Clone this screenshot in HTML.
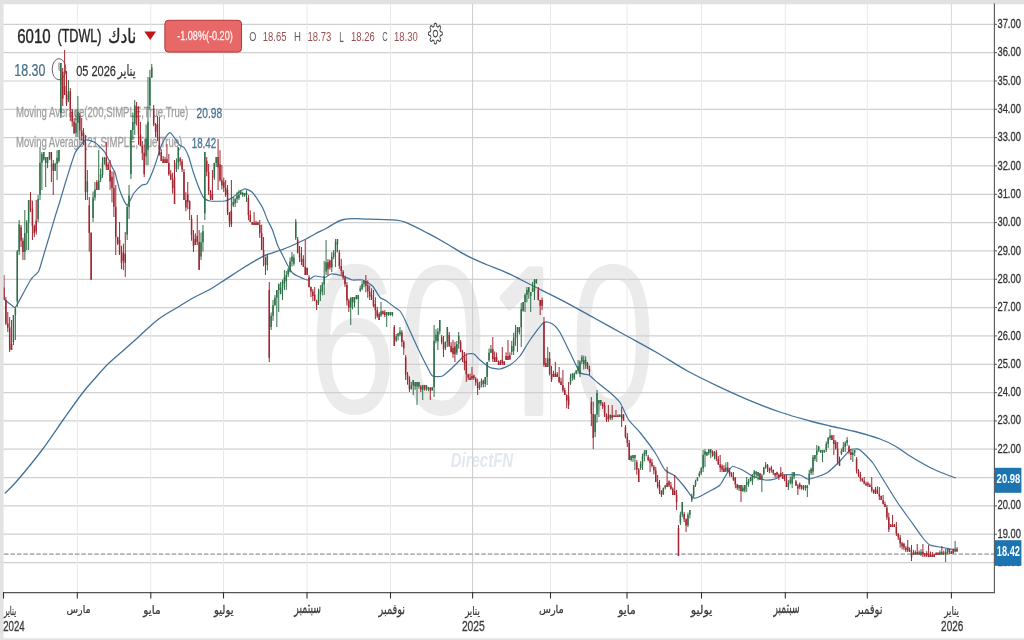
<!DOCTYPE html>
<html><head><meta charset="utf-8">
<style>
html,body{margin:0;padding:0;background:#fff;width:1024px;height:640px;overflow:hidden}
svg{display:block}

</style></head>
<body>
<svg width="1024" height="640" viewBox="0 0 1024 640">
<rect x="0" y="0" width="1024" height="640" fill="#fff"/>
<!-- watermark -->
<text transform="translate(308.38 412.87) scale(0.7452 1)" style='font-family:"Liberation Sans", sans-serif' font-weight="normal" font-style="normal" font-size="212.68" fill="#ebebeb">6</text><text transform="translate(398.47 413.86) scale(0.7396 1)" style='font-family:"Liberation Sans", sans-serif' font-weight="normal" font-style="normal" font-size="214.08" fill="#ebebeb">0</text><text transform="translate(477.18 414.50) scale(0.8875 1)" style='font-family:"NanumGothic", sans-serif' font-weight="bold" font-style="normal" font-size="196.05" fill="#ebebeb">1</text><text transform="translate(570.81 412.48) scale(0.7180 1)" style='font-family:"Liberation Sans", sans-serif' font-weight="normal" font-style="normal" font-size="212.11" fill="#ebebeb">0</text><text transform="translate(450.70 466.59) scale(0.7208 1)" style='font-family:"Liberation Sans", sans-serif' font-weight="bold" font-style="italic" font-size="20.81" fill="#e2e8ee">DirectFN</text>
<!-- grid -->
<g stroke="#d0d0d0" stroke-width="1.2"><line x1="3" x2="994" y1="24.3" y2="24.3"/><line x1="3" x2="994" y1="52.6" y2="52.6"/><line x1="3" x2="994" y1="81.0" y2="81.0"/><line x1="3" x2="994" y1="109.3" y2="109.3"/><line x1="3" x2="994" y1="137.6" y2="137.6"/><line x1="3" x2="994" y1="165.9" y2="165.9"/><line x1="3" x2="994" y1="194.3" y2="194.3"/><line x1="3" x2="994" y1="222.6" y2="222.6"/><line x1="3" x2="994" y1="250.9" y2="250.9"/><line x1="3" x2="994" y1="279.3" y2="279.3"/><line x1="3" x2="994" y1="307.6" y2="307.6"/><line x1="3" x2="994" y1="335.9" y2="335.9"/><line x1="3" x2="994" y1="364.3" y2="364.3"/><line x1="3" x2="994" y1="392.6" y2="392.6"/><line x1="3" x2="994" y1="420.9" y2="420.9"/><line x1="3" x2="994" y1="449.2" y2="449.2"/><line x1="3" x2="994" y1="477.6" y2="477.6"/><line x1="3" x2="994" y1="505.9" y2="505.9"/><line x1="3" x2="994" y1="534.2" y2="534.2"/><line x1="3" x2="994" y1="562.6" y2="562.6"/></g>
<g stroke="#e9e9e9" stroke-width="1"><line x1="77.3" x2="77.3" y1="3.6" y2="592"/><line x1="150.8" x2="150.8" y1="3.6" y2="592"/><line x1="223.5" x2="223.5" y1="3.6" y2="592"/><line x1="307.0" x2="307.0" y1="3.6" y2="592"/><line x1="390.5" x2="390.5" y1="3.6" y2="592"/><line x1="550.5" x2="550.5" y1="3.6" y2="592"/><line x1="627.0" x2="627.0" y1="3.6" y2="592"/><line x1="701.5" x2="701.5" y1="3.6" y2="592"/><line x1="785.3" x2="785.3" y1="3.6" y2="592"/><line x1="867.3" x2="867.3" y1="3.6" y2="592"/></g>
<line x1="472.6" x2="472.6" y1="3.6" y2="592" stroke="#cccccc" stroke-width="1"/>
<line x1="951.4" x2="951.4" y1="3.6" y2="592" stroke="#d8d8d8" stroke-width="1"/>
<!-- legend -->
<text transform="translate(16.03 116.85) scale(0.6811 1)" style='font-family:"Liberation Sans", sans-serif' font-weight="normal" font-style="normal" font-size="14.04" fill="#a0a0a0" stroke="#a0a0a0" stroke-width="0.30">Moving Average(200,SIMPLE,True,True)</text><text transform="translate(196.59 117.86) scale(0.7395 1)" style='font-family:"Liberation Sans", sans-serif' font-weight="normal" font-style="normal" font-size="13.80" fill="#4d7393" stroke="#4d7393" stroke-width="0.30">20.98</text><text transform="translate(16.04 146.70) scale(0.6889 1)" style='font-family:"Liberation Sans", sans-serif' font-weight="normal" font-style="normal" font-size="13.83" fill="#a0a0a0" stroke="#a0a0a0" stroke-width="0.30">Moving Average(21,SIMPLE,True,True)</text><text transform="translate(191.72 147.96) scale(0.7020 1)" style='font-family:"Liberation Sans", sans-serif' font-weight="normal" font-style="normal" font-size="13.94" fill="#4d7393" stroke="#4d7393" stroke-width="0.30">18.42</text>
<!-- header -->
<text transform="translate(17.15 43.40) scale(0.7643 1)" style='font-family:"Liberation Sans", sans-serif' font-weight="normal" font-style="normal" font-size="19.72" fill="#262626" stroke="#262626" stroke-width="0.40">6010</text><text transform="translate(57.44 42.12) scale(0.6656 1)" style='font-family:"Liberation Sans", sans-serif' font-weight="normal" font-style="normal" font-size="18.94" fill="#262626" stroke="#262626" stroke-width="0.40">(TDWL)</text><text transform="translate(107.93 43.00) scale(0.7599 1)" style='font-family:"DejaVu Sans", sans-serif' font-weight="normal" font-style="normal" font-size="20.13" fill="#262626" stroke="#262626" stroke-width="0.40">نادك</text><text transform="translate(249.34 41.36) scale(0.6743 1)" style='font-family:"Liberation Sans", sans-serif' font-weight="normal" font-style="normal" font-size="13.52" fill="#606060">O</text><text transform="translate(262.84 41.36) scale(0.6992 1)" style='font-family:"Liberation Sans", sans-serif' font-weight="normal" font-style="normal" font-size="13.52" fill="#9a5050">18.65</text><text transform="translate(294.03 41.30) scale(0.7312 1)" style='font-family:"Liberation Sans", sans-serif' font-weight="normal" font-style="normal" font-size="13.19" fill="#606060">H</text><text transform="translate(307.54 41.36) scale(0.7023 1)" style='font-family:"Liberation Sans", sans-serif' font-weight="normal" font-style="normal" font-size="13.52" fill="#9a5050">18.73</text><text transform="translate(339.35 41.50) scale(0.5881 1)" style='font-family:"Liberation Sans", sans-serif' font-weight="normal" font-style="normal" font-size="13.91" fill="#606060">L</text><text transform="translate(351.04 41.36) scale(0.6992 1)" style='font-family:"Liberation Sans", sans-serif' font-weight="normal" font-style="normal" font-size="13.52" fill="#9a5050">18.26</text><text transform="translate(382.23 41.36) scale(0.5518 1)" style='font-family:"Liberation Sans", sans-serif' font-weight="normal" font-style="normal" font-size="13.52" fill="#606060">C</text><text transform="translate(394.04 41.36) scale(0.7023 1)" style='font-family:"Liberation Sans", sans-serif' font-weight="normal" font-style="normal" font-size="13.52" fill="#9a5050">18.30</text><text transform="translate(14.31 75.94) scale(0.7884 1)" style='font-family:"Liberation Sans", sans-serif' font-weight="normal" font-style="normal" font-size="15.77" fill="#4a6f8a" stroke="#4a6f8a" stroke-width="0.25">18.30</text><text transform="translate(76.16 75.95) scale(0.7245 1)" style='font-family:"Liberation Sans", sans-serif' font-weight="normal" font-style="normal" font-size="15.21" fill="#333" stroke="#333" stroke-width="0.25">05 2026</text><text transform="translate(117.81 75.75) scale(0.6808 1)" style='font-family:"DejaVu Sans", sans-serif' font-weight="normal" font-style="normal" font-size="15.20" fill="#333" stroke="#333" stroke-width="0.25">يناير</text>
<ellipse cx="59" cy="69.2" rx="6.8" ry="10.6" fill="none" stroke="#666" stroke-width="1"/>
<path d="M59 62.5V69.5L61 72" fill="none" stroke="#666" stroke-width="0.9"/>
<path d="M144.3 31.6H156.1L150.2 40Z" fill="#c01818"/>
<!-- last price dotted -->
<line x1="4" x2="994" y1="554.1" y2="554.1" stroke="#b2b2b2" stroke-width="1.6" stroke-dasharray="4.5,1.95"/>
<!-- MA lines -->
<path d="M4.70 493.40 C6.73 491.33 10.81 488.07 16.90 481.00 C22.99 473.93 33.44 461.33 41.25 451.00 C49.06 440.67 56.88 428.67 63.75 419.00 C70.62 409.33 77.39 399.67 82.50 393.00 C87.61 386.33 90.15 383.83 94.40 379.00 C98.65 374.17 102.95 368.97 108.00 364.00 C113.05 359.03 119.58 353.75 124.70 349.20 C129.82 344.65 133.03 341.77 138.75 336.70 C144.47 331.62 152.22 323.82 159.00 318.75 C165.78 313.68 173.67 309.76 179.40 306.25 C185.13 302.74 188.20 300.57 193.40 297.70 C198.60 294.82 205.12 292.13 210.60 289.00 C216.07 285.87 221.03 282.27 226.25 278.90 C231.47 275.52 236.69 272.00 241.90 268.75 C247.11 265.50 253.33 261.74 257.50 259.40 C261.67 257.06 262.98 256.27 266.90 254.70 C270.82 253.13 277.15 251.37 281.00 250.00 C284.85 248.63 285.83 248.33 290.00 246.50 C294.17 244.67 301.83 241.08 306.00 239.00 C310.17 236.92 311.67 235.75 315.00 234.00 C318.33 232.25 321.22 230.92 326.00 228.50 C330.78 226.08 336.53 221.07 343.70 219.50 C350.87 217.93 360.22 219.00 369.00 219.10 C377.78 219.20 389.90 219.38 396.40 220.10 C402.90 220.82 402.78 221.22 408.00 223.40 C413.22 225.58 421.17 229.77 427.70 233.20 C434.23 236.63 440.70 240.25 447.20 244.00 C453.70 247.75 460.19 252.28 466.70 255.70 C473.21 259.12 479.73 261.73 486.25 264.50 C492.77 267.27 498.30 268.88 505.80 272.30 C513.30 275.72 521.80 280.28 531.25 285.00 C540.70 289.72 552.08 295.13 562.50 300.60 C572.92 306.07 583.33 312.07 593.75 317.80 C604.17 323.53 614.58 329.27 625.00 335.00 C635.42 340.73 645.83 346.20 656.25 352.20 C666.67 358.20 677.08 365.27 687.50 371.00 C697.92 376.73 708.33 381.67 718.75 386.60 C729.17 391.53 739.58 396.28 750.00 400.60 C760.42 404.92 771.25 409.10 781.25 412.50 C791.25 415.90 801.88 418.75 810.00 421.00 C818.12 423.25 822.50 424.25 830.00 426.00 C837.50 427.75 846.67 429.33 855.00 431.50 C863.33 433.67 873.33 436.58 880.00 439.00 C886.67 441.42 890.00 443.17 895.00 446.00 C900.00 448.83 904.17 452.42 910.00 456.00 C915.83 459.58 924.17 464.50 930.00 467.50 C935.83 470.50 940.67 472.25 945.00 474.00 C949.33 475.75 954.17 477.33 956.00 478.00" fill="none" stroke="#42729a" stroke-width="1.3" stroke-linejoin="round"/>
<path d="M3.75 299.00 C4.38 299.50 8.88 303.15 10.00 304.00 C11.12 304.85 14.25 307.50 15.00 307.50 C15.75 307.50 16.50 305.75 17.50 304.00 C18.50 302.25 23.75 292.30 25.00 290.00 C26.25 287.70 29.25 282.25 30.00 281.00 C30.75 279.75 31.62 278.50 32.50 277.50 C33.38 276.50 37.60 273.35 38.75 271.00 C39.90 268.65 42.88 257.70 44.00 254.00 C45.12 250.30 48.90 237.70 50.00 234.00 C51.10 230.30 54.00 220.30 55.00 217.00 C56.00 213.70 59.00 204.30 60.00 201.00 C61.00 197.70 64.00 187.30 65.00 184.00 C66.00 180.70 69.00 171.10 70.00 168.00 C71.00 164.90 74.00 155.20 75.00 153.00 C76.00 150.80 78.90 147.30 80.00 146.00 C81.10 144.70 84.50 140.35 86.00 140.00 C87.50 139.65 93.10 141.25 95.00 142.50 C96.90 143.75 103.25 149.95 105.00 152.50 C106.75 155.05 111.50 166.00 112.50 168.00 C113.50 170.00 114.25 170.20 115.00 172.50 C115.75 174.80 118.80 187.75 120.00 191.00 C121.20 194.25 125.60 204.80 127.00 205.00 C128.40 205.20 132.50 195.00 134.00 193.00 C135.50 191.00 140.70 185.95 142.00 185.00 C143.30 184.05 145.80 185.20 147.00 183.50 C148.20 181.80 152.50 171.95 154.00 168.00 C155.50 164.05 160.40 147.53 162.00 144.00 C163.60 140.47 168.26 132.60 170.00 132.70 C171.74 132.80 178.00 143.52 179.40 145.00 C180.80 146.48 183.06 146.30 184.00 147.50 C184.94 148.70 187.81 154.50 188.75 157.00 C189.69 159.50 192.31 169.23 193.40 172.50 C194.50 175.77 198.64 187.15 199.70 189.70 C200.76 192.25 202.97 196.87 204.00 198.00 C205.03 199.13 207.90 200.70 210.00 201.00 C212.10 201.30 222.75 201.35 225.00 201.00 C227.25 200.65 230.60 198.70 232.50 197.50 C234.40 196.30 242.00 189.50 244.00 189.00 C246.00 188.50 250.65 190.65 252.50 192.50 C254.35 194.35 261.00 204.75 262.50 207.50 C264.00 210.25 266.50 217.75 267.50 220.00 C268.50 222.25 271.50 227.50 272.50 230.00 C273.50 232.50 276.50 242.50 277.50 245.00 C278.50 247.50 281.50 253.00 282.50 255.00 C283.50 257.00 286.50 263.20 287.50 265.00 C288.50 266.80 291.50 271.90 292.50 273.00 C293.50 274.10 296.00 275.30 297.50 276.00 C299.00 276.70 305.75 280.00 307.50 280.00 C309.25 280.00 313.25 276.25 315.00 276.00 C316.75 275.75 323.40 277.70 325.00 277.50 C326.60 277.30 329.25 274.15 331.00 274.00 C332.75 273.85 340.35 275.40 342.50 276.00 C344.65 276.60 350.50 279.60 352.50 280.00 C354.50 280.40 360.50 279.40 362.50 280.00 C364.50 280.60 370.75 284.25 372.50 286.00 C374.25 287.75 378.75 296.10 380.00 297.50 C381.25 298.90 383.50 299.00 385.00 300.00 C386.50 301.00 393.50 306.40 395.00 307.50 C396.50 308.60 399.00 309.75 400.00 311.00 C401.00 312.25 403.25 316.35 405.00 320.00 C406.75 323.65 415.25 342.75 417.50 347.50 C419.75 352.25 426.00 364.65 427.50 367.50 C429.00 370.35 431.00 375.15 432.50 376.00 C434.00 376.85 440.50 376.85 442.50 376.00 C444.50 375.15 450.50 369.35 452.50 367.50 C454.50 365.65 461.00 358.85 462.50 357.50 C464.00 356.15 466.35 354.35 467.50 354.00 C468.65 353.65 472.75 353.40 474.00 354.00 C475.25 354.60 478.40 358.65 480.00 360.00 C481.60 361.35 488.00 366.60 490.00 367.50 C492.00 368.40 498.00 369.25 500.00 369.00 C502.00 368.75 508.00 366.30 510.00 365.00 C512.00 363.70 518.00 358.50 520.00 356.00 C522.00 353.50 527.62 343.35 530.00 340.00 C532.38 336.65 541.50 324.10 543.75 322.50 C546.00 320.90 550.88 323.00 552.50 324.00 C554.12 325.00 558.25 329.65 560.00 332.50 C561.75 335.35 568.00 348.50 570.00 352.50 C572.00 356.50 578.12 370.25 580.00 372.50 C581.88 374.75 587.00 374.00 588.75 375.00 C590.50 376.00 595.38 380.75 597.50 382.50 C599.62 384.25 607.75 390.50 610.00 392.50 C612.25 394.50 618.12 399.75 620.00 402.50 C621.88 405.25 626.75 417.00 628.75 420.00 C630.75 423.00 637.38 429.25 640.00 432.50 C642.62 435.75 652.50 448.75 655.00 452.50 C657.50 456.25 663.00 467.65 665.00 470.00 C667.00 472.35 673.00 474.25 675.00 476.00 C677.00 477.75 683.25 485.35 685.00 487.50 C686.75 489.65 691.25 496.50 692.50 497.50 C693.75 498.50 695.75 498.15 697.50 497.50 C699.25 496.85 707.75 492.25 710.00 491.00 C712.25 489.75 718.25 486.85 720.00 485.00 C721.75 483.15 726.25 474.35 727.50 472.50 C728.75 470.65 731.00 466.75 732.50 466.50 C734.00 466.25 740.50 469.05 742.50 470.00 C744.50 470.95 750.25 475.00 752.50 476.00 C754.75 477.00 762.75 479.70 765.00 480.00 C767.25 480.30 773.25 479.50 775.00 479.00 C776.75 478.50 780.00 475.40 782.50 475.00 C785.00 474.60 797.50 474.60 800.00 475.00 C802.50 475.40 806.00 478.75 807.50 479.00 C809.00 479.25 813.00 478.15 815.00 477.50 C817.00 476.85 825.00 474.15 827.50 472.50 C830.00 470.85 837.75 463.25 840.00 461.00 C842.25 458.75 848.50 451.20 850.00 450.00 C851.50 448.80 854.00 449.00 855.00 449.00 C856.00 449.00 858.25 448.65 860.00 450.00 C861.75 451.35 870.00 459.25 872.50 462.50 C875.00 465.75 882.50 478.50 885.00 482.50 C887.50 486.50 895.00 498.75 897.50 502.50 C900.00 506.25 907.50 516.50 910.00 520.00 C912.50 523.50 920.50 535.00 922.50 537.50 C924.50 540.00 928.00 544.00 930.00 545.00 C932.00 546.00 940.00 547.00 942.50 547.50 C945.00 548.00 953.75 549.75 955.00 550.00" fill="none" stroke="#42729a" stroke-width="1.2" stroke-linejoin="round"/>
<!-- candles -->
<path d="M4.00 275.0V300.0 M5.89 297.0V325.0 M7.79 312.0V332.0 M9.68 317.0V352.0 M11.58 320.0V350.0 M21.05 225.0V247.0 M22.95 237.7V260.0 M30.52 192.0V212.2 M32.42 200.6V240.0 M34.31 224.6V237.0 M36.21 200.0V234.5 M51.37 152.0V182.0 M53.26 160.0V195.0 M62.73 68.0V106.0 M64.63 50.0V95.0 M66.52 71.0V106.0 M70.31 88.0V121.0 M72.21 109.0V126.6 M74.10 118.2V134.0 M79.79 113.0V140.0 M81.68 118.0V140.6 M83.57 128.1V145.0 M85.47 135.0V200.0 M89.26 197.0V251.6 M91.15 232.2V280.0 M96.84 180.0V190.0 M106.31 142.0V170.0 M108.20 162.1V170.0 M110.10 160.0V189.8 M111.99 171.3V202.4 M113.89 171.3V217.0 M115.78 185.0V255.0 M117.68 236.8V245.0 M119.57 222.0V255.0 M121.47 245.7V269.2 M123.36 243.6V270.0 M125.26 232.0V277.0 M136.62 102.0V125.5 M138.52 106.4V144.9 M140.41 122.0V146.0 M142.31 141.0V160.1 M144.20 144.9V177.0 M153.68 105.0V126.1 M155.57 123.0V137.3 M157.47 116.0V141.0 M159.36 117.0V155.6 M161.25 149.3V161.0 M163.15 156.0V163.0 M165.04 157.0V163.0 M166.94 144.0V163.0 M168.83 154.0V175.8 M170.73 170.1V180.0 M172.62 172.7V193.6 M174.52 160.0V204.0 M180.20 157.0V165.6 M182.10 159.2V172.0 M183.99 169.0V200.0 M185.88 192.2V211.3 M187.78 182.0V209.3 M189.67 200.4V220.0 M191.57 215.0V240.7 M193.46 230.0V252.0 M195.36 233.3V245.0 M197.25 215.0V245.0 M199.15 230.0V270.0 M206.73 157.0V176.3 M208.62 163.9V195.0 M210.51 190.0V200.0 M212.41 170.0V200.0 M218.09 139.0V190.0 M219.99 150.2V181.7 M221.88 165.0V189.4 M223.78 177.6V192.0 M225.67 180.0V196.8 M227.57 185.0V215.0 M229.46 212.0V227.0 M231.36 180.0V227.0 M248.41 195.0V220.3 M250.30 210.3V222.0 M252.20 221.9V225.0 M254.09 212.0V225.0 M255.99 220.8V225.0 M257.88 221.6V225.0 M259.78 220.0V237.9 M261.67 224.6V250.0 M263.56 237.0V266.3 M265.46 256.7V275.0 M269.25 282.0V362.0 M297.67 237.0V253.5 M299.56 246.0V262.0 M301.46 247.0V265.2 M303.35 255.2V267.0 M305.25 240.0V275.0 M307.14 267.4V275.0 M309.04 275.0V287.5 M310.93 286.5V297.0 M312.83 289.1V301.2 M314.72 287.0V301.2 M316.61 299.8V310.0 M327.98 259.1V275.0 M329.88 259.6V269.6 M339.35 250.0V268.9 M341.24 258.9V275.0 M343.14 270.0V279.6 M345.03 275.6V287.0 M346.93 282.0V305.5 M348.82 298.8V312.0 M365.87 275.0V292.2 M367.77 280.3V297.8 M369.66 285.4V300.0 M371.56 288.3V300.0 M373.45 290.0V307.3 M375.35 297.2V319.2 M377.24 306.9V317.8 M379.14 312.2V320.0 M382.93 310.4V314.5 M384.82 310.1V317.0 M394.29 325.0V346.0 M401.87 330.0V346.9 M403.77 340.2V355.0 M405.66 355.0V380.0 M407.56 372.0V384.7 M409.45 376.4V392.0 M420.82 385.0V392.1 M424.61 385.0V390.6 M430.29 387.0V400.0 M441.66 335.0V344.4 M443.55 336.0V357.0 M449.24 332.0V347.0 M451.13 342.2V352.6 M453.03 339.8V357.9 M454.92 341.8V362.0 M460.61 340.0V352.2 M462.50 349.9V362.0 M464.40 352.0V370.4 M466.29 353.4V382.0 M468.18 373.8V380.0 M470.08 373.6V380.0 M471.97 367.0V380.0 M473.87 374.6V380.0 M475.76 377.0V385.6 M477.66 378.7V395.0 M483.34 379.7V387.4 M492.82 337.0V362.0 M494.71 351.5V362.0 M496.60 352.6V362.0 M498.50 360.5V365.0 M500.39 360.0V365.0 M502.29 347.0V365.0 M504.18 361.2V365.0 M506.08 352.3V360.0 M507.97 340.0V360.0 M509.87 352.3V360.0 M538.29 287.0V300.5 M540.18 299.8V315.0 M542.08 297.6V309.9 M543.97 317.0V367.0 M545.86 358.0V367.0 M549.65 352.0V375.4 M551.55 365.8V382.0 M553.44 370.8V377.0 M555.34 362.0V377.0 M557.23 372.0V377.0 M559.13 367.0V383.3 M561.02 377.8V385.0 M562.92 370.0V392.3 M564.81 387.7V395.0 M566.71 394.3V408.4 M568.60 382.0V409.0 M587.55 362.0V369.4 M589.44 365.7V375.0 M591.34 397.0V426.2 M593.23 401.6V449.0 M602.70 402.0V408.9 M604.60 402.0V417.0 M606.49 413.3V422.0 M608.39 405.0V421.8 M612.18 405.0V420.0 M614.07 414.6V417.0 M615.97 410.0V417.0 M617.86 414.3V417.0 M621.65 407.0V427.0 M623.54 414.1V420.8 M625.44 425.0V438.4 M627.33 433.1V447.0 M629.23 440.0V460.0 M636.81 460.0V474.6 M638.70 468.0V482.0 M648.17 455.0V461.4 M650.07 457.5V472.0 M651.96 459.0V467.4 M653.86 465.0V474.4 M655.75 466.8V482.0 M657.65 475.0V488.5 M659.54 479.9V494.1 M661.44 490.3V497.0 M667.12 467.0V487.0 M669.02 480.3V487.0 M670.91 482.0V489.9 M672.81 487.4V495.0 M674.70 475.0V495.0 M676.59 490.0V510.0 M678.49 525.0V556.0 M684.17 512.0V522.2 M686.07 518.3V532.0 M712.59 450.4V456.8 M716.38 450.0V461.1 M718.28 456.0V465.0 M720.17 455.0V472.0 M722.07 464.3V472.0 M723.96 465.1V472.0 M727.75 462.0V472.6 M729.64 467.9V476.7 M731.54 472.2V477.0 M733.43 472.0V480.7 M735.33 477.1V488.3 M737.22 483.9V490.0 M741.01 485.0V502.0 M759.96 472.9V479.8 M767.54 464.0V472.0 M769.43 467.5V473.3 M771.33 465.7V472.6 M773.22 469.5V475.0 M775.12 472.9V477.8 M777.01 471.7V477.3 M778.90 473.5V480.0 M780.80 467.0V477.1 M782.69 472.0V479.0 M784.59 474.9V481.3 M786.48 474.7V487.0 M795.96 480.0V486.0 M797.85 484.0V495.0 M799.75 482.5V489.3 M801.64 485.2V489.7 M831.95 434.8V440.0 M833.85 435.0V455.0 M835.74 440.2V449.6 M837.64 442.0V464.6 M839.53 456.6V466.0 M849.01 445.0V454.1 M850.90 449.4V460.0 M856.58 457.0V473.4 M858.48 469.1V477.0 M860.37 472.0V481.5 M862.27 478.3V482.0 M864.16 477.0V484.4 M866.06 481.7V485.8 M867.95 481.6V487.0 M869.85 483.5V487.0 M871.74 477.0V492.3 M873.64 489.4V493.5 M875.53 487.0V494.0 M877.43 486.3V494.0 M879.32 487.0V500.0 M881.21 495.6V500.0 M883.11 495.0V504.6 M885.00 501.5V507.0 M886.90 505.0V519.9 M888.79 512.7V532.0 M890.69 524.2V527.0 M892.58 515.0V527.0 M894.48 523.9V527.0 M896.37 522.0V536.0 M898.27 533.0V540.0 M900.16 535.0V547.6 M902.06 541.8V549.5 M903.95 542.8V550.0 M905.84 546.1V552.0 M907.74 540.0V552.0 M909.63 547.4V552.0 M911.53 545.0V561.0 M913.42 549.8V555.0 M917.21 544.0V555.0 M919.11 550.6V555.0 M922.90 544.0V557.0 M924.79 553.1V557.0 M926.69 551.2V557.0 M928.58 545.0V557.0 M930.48 551.6V557.0 M932.37 552.1V557.0 M934.26 554.4V557.0 M936.16 552.1V555.0 M938.05 552.4V555.0 M941.84 546.0V554.8 M943.74 550.6V555.0 M949.42 549.0V553.9 M951.32 550.9V554.0 M953.21 548.3V554.0 M957.00 547.1V551.6" stroke="#a02530" stroke-width="1" fill="none"/><path d="M3.25 287.5h1.5v12.5h-1.5z M5.14 300.0h1.5v23.6h-1.5z M7.04 323.6h1.5v4.0h-1.5z M8.93 327.6h1.5v22.2h-1.5z M10.83 344.0h1.5v6.0h-1.5z M20.30 227.2h1.5v13.6h-1.5z M22.20 240.8h1.5v11.1h-1.5z M29.77 200.0h1.5v9.6h-1.5z M31.67 208.7h1.5v17.2h-1.5z M33.56 225.9h1.5v7.4h-1.5z M35.46 220.6h1.5v11.0h-1.5z M50.62 152.0h1.5v7.8h-1.5z M52.51 163.5h1.5v7.2h-1.5z M61.98 71.8h1.5v26.7h-1.5z M63.88 86.0h1.5v9.0h-1.5z M65.77 95.0h1.5v8.4h-1.5z M69.56 91.3h1.5v18.0h-1.5z M71.46 111.5h1.5v10.3h-1.5z M73.35 121.8h1.5v11.1h-1.5z M79.04 115.7h1.5v14.9h-1.5z M80.93 130.6h1.5v5.4h-1.5z M82.82 133.1h1.5v8.7h-1.5z M84.72 141.9h1.5v50.3h-1.5z M88.51 205.3h1.5v27.6h-1.5z M90.40 232.9h1.5v46.6h-1.5z M96.09 182.0h1.5v8.0h-1.5z M105.56 157.4h1.5v9.0h-1.5z M107.45 164.4h1.5v5.6h-1.5z M109.35 170.0h1.5v11.4h-1.5z M111.24 176.7h1.5v11.4h-1.5z M113.14 188.0h1.5v18.8h-1.5z M115.03 206.8h1.5v30.2h-1.5z M116.93 237.0h1.5v6.6h-1.5z M118.82 240.0h1.5v14.1h-1.5z M120.72 254.2h1.5v9.0h-1.5z M122.61 252.1h1.5v9.0h-1.5z M124.51 253.8h1.5v9.0h-1.5z M135.87 106.4h1.5v11.6h-1.5z M137.77 118.0h1.5v16.4h-1.5z M139.66 134.4h1.5v11.6h-1.5z M141.56 146.0h1.5v7.2h-1.5z M143.45 152.7h1.5v21.3h-1.5z M152.93 108.6h1.5v16.0h-1.5z M154.82 124.6h1.5v7.2h-1.5z M156.72 123.9h1.5v13.5h-1.5z M158.61 137.3h1.5v17.1h-1.5z M160.50 152.2h1.5v8.8h-1.5z M162.40 159.2h1.5v3.8h-1.5z M164.29 159.2h1.5v3.8h-1.5z M166.19 159.2h1.5v3.8h-1.5z M168.08 163.0h1.5v11.3h-1.5z M169.98 174.3h1.5v5.2h-1.5z M171.87 179.5h1.5v8.8h-1.5z M173.77 177.4h1.5v26.6h-1.5z M179.45 158.5h1.5v3.0h-1.5z M181.35 161.4h1.5v8.0h-1.5z M183.24 172.1h1.5v27.9h-1.5z M185.13 200.0h1.5v7.6h-1.5z M187.03 194.6h1.5v7.6h-1.5z M188.92 201.6h1.5v7.6h-1.5z M190.82 218.7h1.5v16.2h-1.5z M192.71 234.9h1.5v11.2h-1.5z M194.61 239.0h1.5v6.0h-1.5z M196.50 236.0h1.5v6.0h-1.5z M198.40 242.0h1.5v27.8h-1.5z M205.98 160.8h1.5v10.9h-1.5z M207.87 171.7h1.5v19.4h-1.5z M209.76 191.0h1.5v7.6h-1.5z M211.66 194.0h1.5v6.0h-1.5z M217.34 157.0h1.5v10.2h-1.5z M219.24 164.3h1.5v15.9h-1.5z M221.13 180.2h1.5v5.4h-1.5z M223.03 181.7h1.5v6.1h-1.5z M224.92 187.9h1.5v7.0h-1.5z M226.82 189.8h1.5v22.4h-1.5z M228.71 212.2h1.5v9.4h-1.5z M230.61 210.4h1.5v14.2h-1.5z M247.66 197.7h1.5v17.2h-1.5z M249.55 214.9h1.5v7.1h-1.5z M251.45 222.0h1.5v2.6h-1.5z M253.34 222.4h1.5v2.6h-1.5z M255.24 222.4h1.5v2.6h-1.5z M257.13 222.4h1.5v2.6h-1.5z M259.03 225.0h1.5v8.3h-1.5z M260.92 233.3h1.5v16.7h-1.5z M262.81 250.0h1.5v7.6h-1.5z M264.71 257.2h1.5v7.8h-1.5z M268.50 290.0h1.5v67.8h-1.5z M296.92 239.5h1.5v13.2h-1.5z M298.81 252.7h1.5v5.0h-1.5z M300.71 257.7h1.5v4.0h-1.5z M302.60 259.0h1.5v7.7h-1.5z M304.50 266.7h1.5v8.3h-1.5z M306.39 268.0h1.5v7.0h-1.5z M308.29 277.2h1.5v9.9h-1.5z M310.18 287.1h1.5v4.4h-1.5z M312.08 291.5h1.5v4.6h-1.5z M313.97 294.7h1.5v5.9h-1.5z M315.86 300.7h1.5v4.6h-1.5z M327.23 262.2h1.5v7.0h-1.5z M329.13 260.4h1.5v7.0h-1.5z M338.60 252.5h1.5v13.4h-1.5z M340.49 265.9h1.5v5.0h-1.5z M342.39 271.7h1.5v5.8h-1.5z M344.28 277.5h1.5v7.0h-1.5z M346.18 285.0h1.5v15.4h-1.5z M348.07 300.4h1.5v7.1h-1.5z M365.12 281.0h1.5v5.0h-1.5z M367.02 285.3h1.5v6.1h-1.5z M368.91 291.4h1.5v5.0h-1.5z M370.81 295.0h1.5v5.0h-1.5z M372.70 300.0h1.5v6.0h-1.5z M374.60 303.9h1.5v6.4h-1.5z M376.49 310.3h1.5v6.0h-1.5z M378.39 314.0h1.5v6.0h-1.5z M382.18 311.2h1.5v3.0h-1.5z M384.07 312.2h1.5v3.0h-1.5z M393.54 327.1h1.5v18.8h-1.5z M401.12 332.5h1.5v9.5h-1.5z M403.02 342.0h1.5v6.3h-1.5z M404.91 357.5h1.5v17.3h-1.5z M406.81 374.8h1.5v4.7h-1.5z M408.70 379.5h1.5v9.8h-1.5z M420.07 386.5h1.5v3.2h-1.5z M423.86 385.0h1.5v4.2h-1.5z M429.54 387.9h1.5v2.6h-1.5z M440.91 337.2h1.5v5.0h-1.5z M442.80 342.2h1.5v7.1h-1.5z M448.49 335.0h1.5v10.9h-1.5z M450.38 345.9h1.5v6.0h-1.5z M452.28 348.1h1.5v6.0h-1.5z M454.17 346.4h1.5v7.9h-1.5z M459.86 342.2h1.5v9.8h-1.5z M461.75 352.0h1.5v5.2h-1.5z M463.65 357.3h1.5v6.0h-1.5z M465.54 360.8h1.5v13.5h-1.5z M467.43 374.3h1.5v3.3h-1.5z M469.33 377.4h1.5v2.6h-1.5z M471.22 376.0h1.5v2.6h-1.5z M473.12 375.4h1.5v2.6h-1.5z M475.01 378.8h1.5v3.7h-1.5z M476.91 382.5h1.5v5.4h-1.5z M482.59 380.7h1.5v3.2h-1.5z M492.07 349.3h1.5v9.9h-1.5z M493.96 357.0h1.5v5.0h-1.5z M495.85 357.0h1.5v5.0h-1.5z M497.75 361.4h1.5v3.6h-1.5z M499.64 361.4h1.5v3.6h-1.5z M501.54 359.7h1.5v3.6h-1.5z M503.43 361.4h1.5v3.6h-1.5z M505.33 356.0h1.5v4.0h-1.5z M507.22 356.0h1.5v4.0h-1.5z M509.12 355.2h1.5v4.0h-1.5z M537.54 289.8h1.5v10.3h-1.5z M539.43 300.1h1.5v5.6h-1.5z M541.33 300.1h1.5v5.6h-1.5z M543.22 322.0h1.5v42.9h-1.5z M545.11 363.0h1.5v4.0h-1.5z M548.90 358.4h1.5v15.3h-1.5z M550.80 373.7h1.5v6.0h-1.5z M552.69 374.0h1.5v3.0h-1.5z M554.59 373.5h1.5v3.5h-1.5z M556.48 374.0h1.5v3.0h-1.5z M558.38 377.0h1.5v5.1h-1.5z M560.27 381.4h1.5v3.6h-1.5z M562.17 385.0h1.5v5.6h-1.5z M564.06 390.0h1.5v5.0h-1.5z M565.96 395.0h1.5v5.4h-1.5z M567.85 396.3h1.5v9.2h-1.5z M586.80 363.3h1.5v5.4h-1.5z M588.69 368.7h1.5v3.1h-1.5z M590.59 402.2h1.5v11.8h-1.5z M592.48 414.0h1.5v24.0h-1.5z M601.95 403.5h1.5v3.0h-1.5z M603.85 405.2h1.5v11.2h-1.5z M605.74 416.5h1.5v3.4h-1.5z M607.64 414.5h1.5v4.3h-1.5z M611.43 414.9h1.5v3.0h-1.5z M613.32 415.6h1.5v1.4h-1.5z M615.22 415.6h1.5v1.4h-1.5z M617.11 415.2h1.5v1.8h-1.5z M620.90 414.5h1.5v4.0h-1.5z M622.79 414.5h1.5v6.1h-1.5z M624.69 427.2h1.5v9.5h-1.5z M626.58 436.7h1.5v6.3h-1.5z M628.48 443.0h1.5v17.0h-1.5z M636.06 462.2h1.5v7.2h-1.5z M637.95 469.4h1.5v12.6h-1.5z M647.42 456.7h1.5v3.4h-1.5z M649.32 459.5h1.5v3.4h-1.5z M651.21 462.6h1.5v3.4h-1.5z M653.11 466.7h1.5v3.8h-1.5z M655.00 470.5h1.5v11.5h-1.5z M656.90 482.0h1.5v4.4h-1.5z M658.79 485.0h1.5v5.6h-1.5z M660.69 490.6h1.5v4.4h-1.5z M666.37 483.0h1.5v4.0h-1.5z M668.27 481.5h1.5v4.0h-1.5z M670.16 485.5h1.5v3.2h-1.5z M672.06 488.7h1.5v6.3h-1.5z M673.95 491.0h1.5v4.0h-1.5z M675.84 495.0h1.5v7.1h-1.5z M677.74 528.1h1.5v27.9h-1.5z M683.42 514.0h1.5v5.3h-1.5z M685.32 519.3h1.5v6.3h-1.5z M711.84 451.2h1.5v4.6h-1.5z M715.63 452.2h1.5v6.7h-1.5z M717.53 458.9h1.5v5.3h-1.5z M719.42 464.2h1.5v3.4h-1.5z M721.32 465.9h1.5v3.5h-1.5z M723.21 468.6h1.5v3.4h-1.5z M727.00 467.4h1.5v3.9h-1.5z M728.89 471.3h1.5v3.0h-1.5z M730.79 473.3h1.5v3.5h-1.5z M732.68 476.8h1.5v3.6h-1.5z M734.58 477.7h1.5v6.9h-1.5z M736.47 484.5h1.5v3.6h-1.5z M740.26 485.1h1.5v5.8h-1.5z M759.21 473.6h1.5v6.0h-1.5z M766.79 465.1h1.5v3.7h-1.5z M768.68 468.8h1.5v2.2h-1.5z M770.58 467.5h1.5v2.4h-1.5z M772.47 469.9h1.5v3.1h-1.5z M774.37 473.0h1.5v2.6h-1.5z M776.26 472.2h1.5v2.6h-1.5z M778.15 474.6h1.5v2.6h-1.5z M780.05 473.1h1.5v2.6h-1.5z M781.94 475.7h1.5v3.0h-1.5z M783.84 475.7h1.5v3.5h-1.5z M785.73 479.2h1.5v7.8h-1.5z M795.21 481.5h1.5v4.1h-1.5z M797.10 485.6h1.5v3.0h-1.5z M799.00 483.9h1.5v3.0h-1.5z M800.89 485.3h1.5v3.5h-1.5z M831.20 435.6h1.5v4.4h-1.5z M833.10 440.0h1.5v4.0h-1.5z M834.99 442.2h1.5v6.3h-1.5z M836.89 448.5h1.5v13.3h-1.5z M838.78 461.2h1.5v4.8h-1.5z M848.26 446.5h1.5v5.6h-1.5z M850.15 452.1h1.5v3.0h-1.5z M855.83 459.0h1.5v11.5h-1.5z M857.73 470.5h1.5v4.0h-1.5z M859.62 474.5h1.5v4.0h-1.5z M861.52 478.5h1.5v2.2h-1.5z M863.41 480.7h1.5v2.9h-1.5z M865.31 483.6h1.5v2.0h-1.5z M867.20 483.2h1.5v2.0h-1.5z M869.10 485.0h1.5v2.0h-1.5z M870.99 487.0h1.5v3.4h-1.5z M872.89 490.0h1.5v3.4h-1.5z M874.78 488.7h1.5v3.7h-1.5z M876.68 490.6h1.5v3.4h-1.5z M878.57 494.0h1.5v2.6h-1.5z M880.46 495.9h1.5v4.1h-1.5z M882.36 500.0h1.5v3.9h-1.5z M884.25 503.9h1.5v3.1h-1.5z M886.15 507.7h1.5v9.9h-1.5z M888.04 517.6h1.5v11.8h-1.5z M889.94 524.6h1.5v2.4h-1.5z M891.83 524.6h1.5v2.4h-1.5z M893.73 524.6h1.5v2.4h-1.5z M895.62 527.0h1.5v6.8h-1.5z M897.52 533.8h1.5v3.6h-1.5z M899.41 537.4h1.5v6.0h-1.5z M901.31 543.3h1.5v3.0h-1.5z M903.20 543.8h1.5v3.9h-1.5z M905.09 547.8h1.5v2.4h-1.5z M906.99 546.8h1.5v3.8h-1.5z M908.88 549.6h1.5v2.4h-1.5z M910.78 552.0h1.5v5.2h-1.5z M912.67 552.8h1.5v2.2h-1.5z M916.46 551.9h1.5v2.2h-1.5z M918.36 552.5h1.5v2.2h-1.5z M922.15 551.7h1.5v2.6h-1.5z M924.04 553.2h1.5v2.6h-1.5z M925.94 553.0h1.5v2.6h-1.5z M927.83 554.6h1.5v2.4h-1.5z M929.73 554.6h1.5v2.4h-1.5z M931.62 554.6h1.5v2.4h-1.5z M933.51 554.6h1.5v2.4h-1.5z M935.41 553.2h1.5v1.8h-1.5z M937.30 552.7h1.5v2.3h-1.5z M941.09 552.3h1.5v1.8h-1.5z M942.99 552.8h1.5v1.8h-1.5z M948.67 549.0h1.5v2.8h-1.5z M950.57 551.4h1.5v2.6h-1.5z M952.46 550.3h1.5v2.6h-1.5z M956.25 548.7h1.5v2.7h-1.5z" fill="#a02530"/><path d="M13.47 315.0V345.0 M15.37 307.0V340.0 M17.26 250.0V307.0 M19.16 220.0V255.0 M24.84 210.0V260.0 M26.74 220.0V250.0 M28.63 200.0V250.0 M38.10 195.0V222.0 M40.00 147.0V200.0 M41.89 152.0V190.0 M43.79 152.0V160.6 M45.68 157.0V187.0 M47.58 157.0V168.2 M49.47 152.0V160.2 M55.16 162.6V171.1 M57.05 150.2V180.0 M58.94 150.0V162.6 M60.84 63.0V118.0 M68.42 80.0V102.0 M76.00 110.0V137.0 M77.89 96.0V137.0 M87.36 170.0V200.0 M93.05 191.5V222.0 M94.94 182.0V200.6 M98.73 150.0V190.0 M100.63 168.5V182.0 M102.52 157.0V177.8 M104.42 157.0V164.7 M127.15 204.2V240.0 M129.05 185.0V218.9 M130.94 130.0V179.0 M132.83 112.5V140.0 M134.73 100.0V135.0 M146.10 124.4V165.0 M147.99 77.0V165.0 M149.89 69.9V110.0 M151.78 64.0V77.9 M176.41 158.4V172.0 M178.31 147.0V169.4 M201.04 232.6V260.0 M202.94 225.0V251.6 M204.83 152.0V220.0 M214.30 162.8V180.0 M216.20 157.0V167.0 M233.25 196.9V207.0 M235.15 197.7V207.0 M237.04 191.8V203.0 M238.93 190.0V200.0 M240.83 190.0V194.7 M242.72 191.7V197.0 M244.62 193.0V196.7 M246.51 190.3V202.0 M267.35 253.8V270.4 M271.14 312.5V330.0 M273.04 300.0V320.8 M274.93 295.1V305.7 M276.83 290.0V327.0 M278.72 283.5V312.0 M280.62 282.0V294.4 M282.51 279.5V300.0 M284.41 270.0V290.0 M286.30 270.8V289.8 M288.19 268.0V277.0 M290.09 257.5V272.6 M291.98 252.0V266.5 M293.88 254.2V265.7 M295.77 219.0V240.0 M318.51 288.7V305.0 M320.40 285.2V301.1 M322.30 282.0V295.4 M324.19 261.0V295.0 M326.09 240.0V275.0 M331.77 252.2V272.0 M333.67 250.0V259.2 M335.56 239.0V267.0 M337.46 239.0V252.3 M350.72 297.0V325.0 M352.61 297.0V309.4 M354.51 297.0V307.2 M356.40 295.0V299.5 M358.30 295.0V315.0 M360.19 285.6V292.0 M362.09 281.1V290.4 M363.98 280.0V287.3 M381.03 302.0V317.0 M386.72 312.0V327.0 M388.61 312.0V315.8 M390.50 312.0V315.8 M392.40 312.0V316.4 M396.19 334.0V342.0 M398.08 333.0V340.5 M399.98 327.0V336.3 M411.35 382.0V389.3 M413.24 380.0V395.0 M415.14 382.0V389.8 M417.03 382.0V405.0 M418.92 382.0V388.7 M422.71 385.0V400.0 M426.50 385.0V390.6 M428.40 387.0V391.4 M432.19 387.0V390.6 M434.08 325.0V397.0 M435.98 329.2V343.3 M437.87 328.1V350.0 M439.77 320.0V334.5 M445.45 341.3V350.0 M447.34 327.0V347.1 M456.82 341.0V355.0 M458.71 332.0V348.7 M479.55 381.7V390.0 M481.45 378.5V387.4 M485.24 377.0V387.0 M487.13 362.0V385.0 M489.03 348.5V362.0 M490.92 345.0V353.1 M511.76 340.9V355.0 M513.66 332.9V355.0 M515.55 325.0V345.8 M517.45 327.0V352.0 M519.34 327.0V334.6 M521.23 302.9V347.0 M523.13 302.0V311.7 M525.02 293.3V312.0 M526.92 287.0V302.3 M528.81 287.0V298.7 M530.71 292.0V312.0 M532.60 281.8V292.0 M534.50 279.0V300.0 M536.39 279.0V283.6 M547.76 347.0V367.0 M570.50 373.7V385.0 M572.39 373.0V380.7 M574.28 372.4V379.9 M576.18 370.0V374.4 M578.07 360.0V373.8 M579.97 360.4V377.0 M581.86 355.0V363.9 M583.76 355.6V369.5 M585.65 356.2V368.9 M595.13 414.1V437.0 M597.02 390.0V422.7 M598.91 400.0V417.0 M600.81 400.0V405.7 M610.28 414.2V420.0 M619.76 414.5V417.0 M631.12 455.5V461.5 M633.02 455.0V461.9 M634.91 455.0V470.0 M640.60 461.2V469.9 M642.49 453.5V470.0 M644.39 450.0V461.4 M646.28 450.0V456.3 M663.33 487.7V495.0 M665.23 485.0V489.4 M680.38 511.7V525.0 M682.28 502.0V517.3 M687.96 512.6V527.0 M689.86 510.0V518.4 M691.75 493.8V502.0 M693.65 485.0V497.8 M695.54 479.7V487.0 M697.44 477.0V481.1 M699.33 471.2V477.0 M701.22 467.0V475.0 M703.12 450.0V472.0 M705.01 449.1V467.0 M706.91 451.7V456.2 M708.80 449.0V454.9 M710.70 449.0V458.1 M714.49 450.9V459.4 M725.85 462.5V472.0 M739.12 485.0V491.0 M742.91 485.0V492.2 M744.80 485.0V492.4 M746.70 477.0V492.0 M748.59 478.8V486.9 M750.49 476.7V481.5 M752.38 474.3V485.0 M754.27 470.0V478.8 M756.17 471.0V477.6 M758.06 472.0V480.3 M761.85 473.8V492.0 M763.75 467.2V475.0 M765.64 462.0V468.8 M788.38 480.2V490.0 M790.27 476.2V484.6 M792.17 472.0V488.2 M794.06 472.0V479.2 M803.53 485.0V490.2 M805.43 485.0V490.7 M807.32 485.0V497.0 M809.22 470.0V485.0 M811.11 467.6V475.0 M813.01 455.0V475.0 M814.90 455.0V461.2 M816.80 445.0V462.0 M818.69 445.9V452.1 M820.59 450.0V452.8 M822.48 450.0V462.0 M824.38 450.0V452.4 M826.27 441.5V452.0 M828.17 437.0V447.9 M830.06 429.0V440.0 M841.43 448.6V455.0 M843.32 442.0V452.0 M845.22 441.2V452.0 M847.11 437.0V445.8 M852.80 450.0V462.0 M854.69 450.0V456.2 M915.32 550.5V555.0 M921.00 549.1V556.1 M939.95 550.5V555.0 M945.63 549.0V562.0 M947.53 549.0V554.1 M955.11 541.0V552.4" stroke="#2f6f48" stroke-width="1" fill="none"/><path d="M12.72 315.0h1.5v27.0h-1.5z M14.62 308.4h1.5v6.6h-1.5z M16.51 251.5h1.5v49.8h-1.5z M18.41 224.2h1.5v27.3h-1.5z M24.09 233.1h1.5v18.8h-1.5z M25.99 222.6h1.5v10.5h-1.5z M27.88 200.0h1.5v22.6h-1.5z M37.35 198.9h1.5v20.4h-1.5z M39.25 162.7h1.5v32.0h-1.5z M41.14 154.0h1.5v8.7h-1.5z M43.04 152.0h1.5v7.6h-1.5z M44.93 157.0h1.5v6.0h-1.5z M46.83 157.0h1.5v6.0h-1.5z M48.72 152.0h1.5v6.0h-1.5z M54.41 163.7h1.5v7.0h-1.5z M56.30 157.7h1.5v6.0h-1.5z M58.19 150.0h1.5v11.0h-1.5z M60.09 63.0h1.5v49.5h-1.5z M67.67 91.2h1.5v8.6h-1.5z M75.25 123.2h1.5v9.8h-1.5z M77.14 111.9h1.5v11.2h-1.5z M86.61 181.3h1.5v10.8h-1.5z M92.30 197.5h1.5v20.5h-1.5z M94.19 189.5h1.5v8.0h-1.5z M97.98 180.4h1.5v9.3h-1.5z M99.88 174.5h1.5v5.0h-1.5z M101.77 162.4h1.5v12.5h-1.5z M103.67 157.4h1.5v5.0h-1.5z M126.40 207.1h1.5v27.4h-1.5z M128.30 195.6h1.5v11.5h-1.5z M130.19 130.0h1.5v44.1h-1.5z M132.08 122.0h1.5v8.0h-1.5z M133.98 105.2h1.5v18.6h-1.5z M145.35 138.6h1.5v17.6h-1.5z M147.24 121.8h1.5v27.9h-1.5z M149.14 77.5h1.5v27.9h-1.5z M151.03 67.5h1.5v10.1h-1.5z M175.66 162.5h1.5v7.0h-1.5z M177.56 147.0h1.5v15.5h-1.5z M200.29 242.3h1.5v14.2h-1.5z M202.19 231.2h1.5v11.0h-1.5z M204.08 152.0h1.5v61.2h-1.5z M213.55 163.1h1.5v14.6h-1.5z M215.45 157.0h1.5v6.1h-1.5z M232.50 201.9h1.5v3.4h-1.5z M234.40 199.0h1.5v4.6h-1.5z M236.29 195.6h1.5v3.4h-1.5z M238.18 194.4h1.5v3.5h-1.5z M240.08 192.0h1.5v2.4h-1.5z M241.97 192.9h1.5v2.4h-1.5z M243.87 193.0h1.5v2.4h-1.5z M245.76 192.6h1.5v2.5h-1.5z M266.60 255.6h1.5v9.4h-1.5z M270.39 315.8h1.5v11.2h-1.5z M272.29 305.3h1.5v10.5h-1.5z M274.18 297.8h1.5v7.4h-1.5z M276.08 290.0h1.5v7.8h-1.5z M277.97 284.0h1.5v6.0h-1.5z M279.87 287.7h1.5v6.0h-1.5z M281.76 281.7h1.5v6.0h-1.5z M283.66 277.5h1.5v6.0h-1.5z M285.55 275.0h1.5v6.0h-1.5z M287.44 269.5h1.5v5.0h-1.5z M289.34 261.5h1.5v10.2h-1.5z M291.23 256.5h1.5v5.0h-1.5z M293.13 257.6h1.5v6.2h-1.5z M295.02 221.8h1.5v16.1h-1.5z M317.76 294.3h1.5v8.4h-1.5z M319.65 289.7h1.5v4.6h-1.5z M321.55 284.5h1.5v7.0h-1.5z M323.44 275.8h1.5v8.8h-1.5z M325.34 262.2h1.5v9.3h-1.5z M331.02 256.8h1.5v10.6h-1.5z M332.92 252.4h1.5v4.4h-1.5z M334.81 241.9h1.5v10.5h-1.5z M336.71 239.0h1.5v5.6h-1.5z M349.97 298.1h1.5v9.4h-1.5z M351.86 297.0h1.5v5.6h-1.5z M353.76 297.0h1.5v5.6h-1.5z M355.65 295.0h1.5v4.0h-1.5z M357.55 295.0h1.5v4.0h-1.5z M359.44 288.4h1.5v2.4h-1.5z M361.34 283.9h1.5v5.1h-1.5z M363.23 281.0h1.5v2.9h-1.5z M380.28 311.2h1.5v4.3h-1.5z M385.97 312.0h1.5v3.2h-1.5z M387.86 312.0h1.5v3.0h-1.5z M389.75 312.0h1.5v3.0h-1.5z M391.65 312.0h1.5v3.0h-1.5z M395.44 336.2h1.5v4.3h-1.5z M397.33 333.2h1.5v3.0h-1.5z M399.23 331.6h1.5v3.0h-1.5z M410.60 385.5h1.5v3.8h-1.5z M412.49 380.0h1.5v5.5h-1.5z M414.39 382.0h1.5v4.6h-1.5z M416.28 382.0h1.5v4.6h-1.5z M418.17 382.0h1.5v4.6h-1.5z M421.96 385.0h1.5v4.7h-1.5z M425.75 385.0h1.5v4.2h-1.5z M427.65 387.0h1.5v2.6h-1.5z M431.44 387.2h1.5v3.3h-1.5z M433.33 340.7h1.5v46.5h-1.5z M435.23 334.7h1.5v6.0h-1.5z M437.12 331.5h1.5v9.8h-1.5z M439.02 320.0h1.5v11.5h-1.5z M444.70 342.3h1.5v5.4h-1.5z M446.59 327.0h1.5v15.3h-1.5z M456.07 343.9h1.5v8.8h-1.5z M457.96 335.7h1.5v8.1h-1.5z M478.80 385.3h1.5v2.6h-1.5z M480.70 380.7h1.5v4.6h-1.5z M484.49 377.0h1.5v6.9h-1.5z M486.38 362.0h1.5v15.0h-1.5z M488.28 352.7h1.5v7.6h-1.5z M490.17 349.3h1.5v3.4h-1.5z M511.01 346.0h1.5v6.0h-1.5z M512.91 337.7h1.5v13.2h-1.5z M514.80 331.6h1.5v6.1h-1.5z M516.70 327.0h1.5v5.0h-1.5z M518.59 327.3h1.5v5.0h-1.5z M520.48 309.0h1.5v18.3h-1.5z M522.38 302.0h1.5v9.0h-1.5z M524.27 295.1h1.5v6.9h-1.5z M526.17 290.1h1.5v5.0h-1.5z M528.06 287.2h1.5v5.0h-1.5z M529.96 292.0h1.5v4.0h-1.5z M531.85 287.8h1.5v4.2h-1.5z M533.75 279.8h1.5v11.1h-1.5z M535.64 279.0h1.5v4.2h-1.5z M547.01 358.4h1.5v8.6h-1.5z M569.75 377.3h1.5v6.2h-1.5z M571.64 374.3h1.5v3.0h-1.5z M573.53 373.6h1.5v5.1h-1.5z M575.43 370.5h1.5v3.0h-1.5z M577.32 366.1h1.5v4.4h-1.5z M579.22 361.6h1.5v12.4h-1.5z M581.11 357.2h1.5v4.4h-1.5z M583.01 359.9h1.5v4.4h-1.5z M584.90 359.7h1.5v5.9h-1.5z M594.38 414.6h1.5v17.7h-1.5z M596.27 393.1h1.5v21.5h-1.5z M598.16 400.0h1.5v3.4h-1.5z M600.06 400.0h1.5v3.4h-1.5z M609.53 414.9h1.5v3.6h-1.5z M619.01 414.5h1.5v2.5h-1.5z M630.37 455.8h1.5v4.2h-1.5z M632.27 455.0h1.5v3.0h-1.5z M634.16 455.0h1.5v3.0h-1.5z M639.85 464.0h1.5v4.0h-1.5z M641.74 456.2h1.5v8.1h-1.5z M643.64 452.2h1.5v4.0h-1.5z M645.53 450.0h1.5v4.0h-1.5z M662.58 487.8h1.5v6.2h-1.5z M664.48 485.6h1.5v2.2h-1.5z M679.63 514.7h1.5v8.0h-1.5z M681.53 502.0h1.5v12.7h-1.5z M687.21 514.8h1.5v10.5h-1.5z M689.11 510.0h1.5v4.8h-1.5z M691.00 495.8h1.5v4.5h-1.5z M692.90 485.0h1.5v10.8h-1.5z M694.79 481.1h1.5v3.9h-1.5z M696.69 477.6h1.5v3.5h-1.5z M698.58 473.2h1.5v2.8h-1.5z M700.47 468.5h1.5v4.7h-1.5z M702.37 454.8h1.5v13.7h-1.5z M704.26 451.2h1.5v3.6h-1.5z M706.16 451.9h1.5v3.6h-1.5z M708.05 449.6h1.5v3.6h-1.5z M709.95 449.2h1.5v3.6h-1.5z M713.74 452.2h1.5v3.6h-1.5z M725.10 467.4h1.5v4.2h-1.5z M738.37 485.0h1.5v3.4h-1.5z M742.16 487.5h1.5v3.4h-1.5z M744.05 485.0h1.5v5.8h-1.5z M745.95 482.0h1.5v3.0h-1.5z M747.84 480.7h1.5v3.0h-1.5z M749.74 477.7h1.5v3.0h-1.5z M751.63 474.4h1.5v6.8h-1.5z M753.52 471.4h1.5v3.0h-1.5z M755.42 471.6h1.5v3.0h-1.5z M757.31 472.0h1.5v4.0h-1.5z M761.10 475.5h1.5v4.0h-1.5z M763.00 467.3h1.5v6.4h-1.5z M764.89 464.7h1.5v2.6h-1.5z M787.63 483.1h1.5v3.9h-1.5z M789.52 479.5h1.5v3.6h-1.5z M791.42 476.8h1.5v6.8h-1.5z M793.31 472.0h1.5v4.8h-1.5z M802.78 486.4h1.5v2.4h-1.5z M804.68 485.3h1.5v2.4h-1.5z M806.57 485.7h1.5v2.4h-1.5z M808.47 473.8h1.5v9.7h-1.5z M810.36 469.0h1.5v4.0h-1.5z M812.26 457.2h1.5v14.4h-1.5z M814.15 455.0h1.5v4.0h-1.5z M816.05 450.4h1.5v4.6h-1.5z M817.94 446.4h1.5v4.0h-1.5z M819.84 450.0h1.5v2.4h-1.5z M821.73 450.1h1.5v2.4h-1.5z M823.63 450.0h1.5v2.4h-1.5z M825.52 443.9h1.5v6.1h-1.5z M827.42 437.9h1.5v6.0h-1.5z M829.31 435.6h1.5v2.4h-1.5z M840.68 451.1h1.5v2.6h-1.5z M842.57 446.7h1.5v4.9h-1.5z M844.47 443.1h1.5v3.7h-1.5z M846.36 440.1h1.5v3.0h-1.5z M852.05 452.6h1.5v2.5h-1.5z M853.94 450.2h1.5v2.4h-1.5z M914.57 551.9h1.5v2.6h-1.5z M920.25 551.7h1.5v3.0h-1.5z M939.20 552.3h1.5v2.7h-1.5z M944.88 552.0h1.5v2.6h-1.5z M946.78 549.0h1.5v3.7h-1.5z M954.36 548.7h1.5v2.7h-1.5z" fill="#2f6f48"/>
<!-- borders -->
<rect x="0" y="0" width="1024" height="4.2" fill="#e1e1e1"/>
<rect x="0" y="0" width="3.6" height="640" fill="#e3e3e3"/>
<rect x="0" y="638.3" width="1024" height="1.7" fill="#e2e2e2"/>
<!-- axes -->
<line x1="994.4" x2="994.4" y1="3.6" y2="593" stroke="#555" stroke-width="1.1"/>
<line x1="3.2" x2="995" y1="592.6" y2="592.6" stroke="#555" stroke-width="1.3"/>
<g stroke="#333" stroke-width="1.1"><line x1="3.5" x2="3.5" y1="592" y2="598.5"/><line x1="77.3" x2="77.3" y1="592" y2="598.5"/><line x1="150.8" x2="150.8" y1="592" y2="598.5"/><line x1="223.5" x2="223.5" y1="592" y2="598.5"/><line x1="307.0" x2="307.0" y1="592" y2="598.5"/><line x1="390.5" x2="390.5" y1="592" y2="598.5"/><line x1="472.6" x2="472.6" y1="592" y2="598.5"/><line x1="550.5" x2="550.5" y1="592" y2="598.5"/><line x1="627.0" x2="627.0" y1="592" y2="598.5"/><line x1="701.5" x2="701.5" y1="592" y2="598.5"/><line x1="785.3" x2="785.3" y1="592" y2="598.5"/><line x1="867.3" x2="867.3" y1="592" y2="598.5"/><line x1="951.4" x2="951.4" y1="592" y2="598.5"/></g>
<g stroke="#555" stroke-width="1"><line x1="994" x2="997" y1="24.3" y2="24.3"/><line x1="994" x2="997" y1="52.6" y2="52.6"/><line x1="994" x2="997" y1="81.0" y2="81.0"/><line x1="994" x2="997" y1="109.3" y2="109.3"/><line x1="994" x2="997" y1="137.6" y2="137.6"/><line x1="994" x2="997" y1="165.9" y2="165.9"/><line x1="994" x2="997" y1="194.3" y2="194.3"/><line x1="994" x2="997" y1="222.6" y2="222.6"/><line x1="994" x2="997" y1="250.9" y2="250.9"/><line x1="994" x2="997" y1="279.3" y2="279.3"/><line x1="994" x2="997" y1="307.6" y2="307.6"/><line x1="994" x2="997" y1="335.9" y2="335.9"/><line x1="994" x2="997" y1="364.3" y2="364.3"/><line x1="994" x2="997" y1="392.6" y2="392.6"/><line x1="994" x2="997" y1="420.9" y2="420.9"/><line x1="994" x2="997" y1="449.2" y2="449.2"/><line x1="994" x2="997" y1="477.6" y2="477.6"/><line x1="994" x2="997" y1="505.9" y2="505.9"/><line x1="994" x2="997" y1="534.2" y2="534.2"/><line x1="994" x2="997" y1="562.6" y2="562.6"/></g>
<text transform="translate(3.98 614.57) scale(0.5814 1)" style='font-family:"DejaVu Sans", sans-serif' font-weight="normal" font-style="normal" font-size="12.20" fill="#3a3a3a" stroke="#3a3a3a" stroke-width="0.25">يناير</text><text transform="translate(66.53 613.01) scale(0.8758 1)" style='font-family:"DejaVu Sans", sans-serif' font-weight="normal" font-style="normal" font-size="10.80" fill="#3a3a3a" stroke="#3a3a3a" stroke-width="0.25">مارس</text><text transform="translate(143.23 614.07) scale(0.8760 1)" style='font-family:"DejaVu Sans", sans-serif' font-weight="normal" font-style="normal" font-size="12.20" fill="#3a3a3a" stroke="#3a3a3a" stroke-width="0.25">مايو</text><text transform="translate(214.01 614.07) scale(0.8367 1)" style='font-family:"DejaVu Sans", sans-serif' font-weight="normal" font-style="normal" font-size="12.20" fill="#3a3a3a" stroke="#3a3a3a" stroke-width="0.25">يوليو</text><text transform="translate(294.37 612.99) scale(0.5561 1)" style='font-family:"DejaVu Sans", sans-serif' font-weight="normal" font-style="normal" font-size="16.71" fill="#3a3a3a" stroke="#3a3a3a" stroke-width="0.25">سبتمبر</text><text transform="translate(378.59 613.63) scale(0.6997 1)" style='font-family:"DejaVu Sans", sans-serif' font-weight="normal" font-style="normal" font-size="14.02" fill="#3a3a3a" stroke="#3a3a3a" stroke-width="0.25">نوفمبر</text><text transform="translate(465.14 614.57) scale(0.7005 1)" style='font-family:"DejaVu Sans", sans-serif' font-weight="normal" font-style="normal" font-size="12.20" fill="#3a3a3a" stroke="#3a3a3a" stroke-width="0.25">يناير</text><text transform="translate(539.01 613.01) scale(0.9028 1)" style='font-family:"DejaVu Sans", sans-serif' font-weight="normal" font-style="normal" font-size="10.80" fill="#3a3a3a" stroke="#3a3a3a" stroke-width="0.25">مارس</text><text transform="translate(618.13 614.07) scale(0.8863 1)" style='font-family:"DejaVu Sans", sans-serif' font-weight="normal" font-style="normal" font-size="12.20" fill="#3a3a3a" stroke="#3a3a3a" stroke-width="0.25">مايو</text><text transform="translate(690.85 614.07) scale(0.9179 1)" style='font-family:"DejaVu Sans", sans-serif' font-weight="normal" font-style="normal" font-size="12.20" fill="#3a3a3a" stroke="#3a3a3a" stroke-width="0.25">يوليو</text><text transform="translate(773.56 612.99) scale(0.5413 1)" style='font-family:"DejaVu Sans", sans-serif' font-weight="normal" font-style="normal" font-size="16.71" fill="#3a3a3a" stroke="#3a3a3a" stroke-width="0.25">سبتمبر</text><text transform="translate(855.40 613.63) scale(0.7185 1)" style='font-family:"DejaVu Sans", sans-serif' font-weight="normal" font-style="normal" font-size="14.02" fill="#3a3a3a" stroke="#3a3a3a" stroke-width="0.25">نوفمبر</text><text transform="translate(944.34 614.57) scale(0.7005 1)" style='font-family:"DejaVu Sans", sans-serif' font-weight="normal" font-style="normal" font-size="12.20" fill="#3a3a3a" stroke="#3a3a3a" stroke-width="0.25">يناير</text><text transform="translate(3.22 631.36) scale(0.6868 1)" style='font-family:"Liberation Sans", sans-serif' font-weight="normal" font-style="normal" font-size="14.08" fill="#3a3a3a" stroke="#3a3a3a" stroke-width="0.30">2024</text><text transform="translate(461.88 631.36) scale(0.7333 1)" style='font-family:"Liberation Sans", sans-serif' font-weight="normal" font-style="normal" font-size="14.08" fill="#3a3a3a" stroke="#3a3a3a" stroke-width="0.30">2025</text><text transform="translate(941.10 631.36) scale(0.7100 1)" style='font-family:"Liberation Sans", sans-serif' font-weight="normal" font-style="normal" font-size="14.08" fill="#3a3a3a" stroke="#3a3a3a" stroke-width="0.30">2026</text>
<g transform="translate(0 0.00)"><text transform="translate(997.42 27.87) scale(0.7400 1)" style='font-family:"Liberation Sans", sans-serif' font-weight="normal" font-style="normal" font-size="12.68" fill="#333" stroke="#333" stroke-width="0.30">37.00</text></g><g transform="translate(0 28.33)"><text transform="translate(997.42 27.87) scale(0.7400 1)" style='font-family:"Liberation Sans", sans-serif' font-weight="normal" font-style="normal" font-size="12.68" fill="#333" stroke="#333" stroke-width="0.30">36.00</text></g><g transform="translate(0 56.66)"><text transform="translate(997.42 27.87) scale(0.7400 1)" style='font-family:"Liberation Sans", sans-serif' font-weight="normal" font-style="normal" font-size="12.68" fill="#333" stroke="#333" stroke-width="0.30">35.00</text></g><g transform="translate(0 84.99)"><text transform="translate(997.42 27.87) scale(0.7400 1)" style='font-family:"Liberation Sans", sans-serif' font-weight="normal" font-style="normal" font-size="12.68" fill="#333" stroke="#333" stroke-width="0.30">34.00</text></g><g transform="translate(0 113.32)"><text transform="translate(997.42 27.87) scale(0.7400 1)" style='font-family:"Liberation Sans", sans-serif' font-weight="normal" font-style="normal" font-size="12.68" fill="#333" stroke="#333" stroke-width="0.30">33.00</text></g><g transform="translate(0 141.65)"><text transform="translate(997.42 27.87) scale(0.7400 1)" style='font-family:"Liberation Sans", sans-serif' font-weight="normal" font-style="normal" font-size="12.68" fill="#333" stroke="#333" stroke-width="0.30">32.00</text></g><g transform="translate(0 169.98)"><text transform="translate(997.42 27.87) scale(0.7400 1)" style='font-family:"Liberation Sans", sans-serif' font-weight="normal" font-style="normal" font-size="12.68" fill="#333" stroke="#333" stroke-width="0.30">31.00</text></g><g transform="translate(0 198.31)"><text transform="translate(997.42 27.87) scale(0.7400 1)" style='font-family:"Liberation Sans", sans-serif' font-weight="normal" font-style="normal" font-size="12.68" fill="#333" stroke="#333" stroke-width="0.30">30.00</text></g><g transform="translate(0 226.64)"><text transform="translate(997.42 27.87) scale(0.7400 1)" style='font-family:"Liberation Sans", sans-serif' font-weight="normal" font-style="normal" font-size="12.68" fill="#333" stroke="#333" stroke-width="0.30">29.00</text></g><g transform="translate(0 254.97)"><text transform="translate(997.42 27.87) scale(0.7400 1)" style='font-family:"Liberation Sans", sans-serif' font-weight="normal" font-style="normal" font-size="12.68" fill="#333" stroke="#333" stroke-width="0.30">28.00</text></g><g transform="translate(0 283.30)"><text transform="translate(997.42 27.87) scale(0.7400 1)" style='font-family:"Liberation Sans", sans-serif' font-weight="normal" font-style="normal" font-size="12.68" fill="#333" stroke="#333" stroke-width="0.30">27.00</text></g><g transform="translate(0 311.63)"><text transform="translate(997.42 27.87) scale(0.7400 1)" style='font-family:"Liberation Sans", sans-serif' font-weight="normal" font-style="normal" font-size="12.68" fill="#333" stroke="#333" stroke-width="0.30">26.00</text></g><g transform="translate(0 339.96)"><text transform="translate(997.42 27.87) scale(0.7400 1)" style='font-family:"Liberation Sans", sans-serif' font-weight="normal" font-style="normal" font-size="12.68" fill="#333" stroke="#333" stroke-width="0.30">25.00</text></g><g transform="translate(0 368.29)"><text transform="translate(997.42 27.87) scale(0.7400 1)" style='font-family:"Liberation Sans", sans-serif' font-weight="normal" font-style="normal" font-size="12.68" fill="#333" stroke="#333" stroke-width="0.30">24.00</text></g><g transform="translate(0 396.62)"><text transform="translate(997.42 27.87) scale(0.7400 1)" style='font-family:"Liberation Sans", sans-serif' font-weight="normal" font-style="normal" font-size="12.68" fill="#333" stroke="#333" stroke-width="0.30">23.00</text></g><g transform="translate(0 424.95)"><text transform="translate(997.42 27.87) scale(0.7400 1)" style='font-family:"Liberation Sans", sans-serif' font-weight="normal" font-style="normal" font-size="12.68" fill="#333" stroke="#333" stroke-width="0.30">22.00</text></g><g transform="translate(0 481.61)"><text transform="translate(997.42 27.87) scale(0.7400 1)" style='font-family:"Liberation Sans", sans-serif' font-weight="normal" font-style="normal" font-size="12.68" fill="#333" stroke="#333" stroke-width="0.30">20.00</text></g><g transform="translate(0 509.94)"><text transform="translate(997.42 27.87) scale(0.7400 1)" style='font-family:"Liberation Sans", sans-serif' font-weight="normal" font-style="normal" font-size="12.68" fill="#333" stroke="#333" stroke-width="0.30">19.00</text></g><g transform="translate(0 538.27)"><text transform="translate(997.42 27.87) scale(0.7400 1)" style='font-family:"Liberation Sans", sans-serif' font-weight="normal" font-style="normal" font-size="12.68" fill="#333" stroke="#333" stroke-width="0.30">18.00</text></g>
<!-- price boxes -->
<rect x="994.9" y="467.8" width="26.5" height="25" fill="#1c74b0"/>
<rect x="994.9" y="540.2" width="26.5" height="25.6" fill="#1c74b0"/>
<text transform="translate(996.62 482.67) scale(0.7151 1)" style='font-family:"Liberation Sans", sans-serif' font-weight="bold" font-style="normal" font-size="13.24" fill="#fff">20.98</text><text transform="translate(996.85 555.56) scale(0.6604 1)" style='font-family:"Liberation Sans", sans-serif' font-weight="bold" font-style="normal" font-size="13.94" fill="#fff">18.42</text>
<!-- pill (drawn under its text) -->
<rect x="164.9" y="20.3" width="76.6" height="31.8" rx="3.5" fill="#e86868" stroke="#b53636" stroke-width="1"/>
<text transform="translate(177.14 39.95) scale(0.6956 1)" style='font-family:"Liberation Sans", sans-serif' font-weight="normal" font-style="normal" font-size="13.09" fill="#fff4f4" stroke="#fff4f4" stroke-width="0.30">-1.08%(-0.20)</text>
<!-- gear -->
<g transform="translate(435.4 33.6) scale(0.68 1)" fill="none" stroke="#444" stroke-width="1.25">
<path d="M0.00 -10.20 L0.16 -10.20 L0.32 -10.19 L0.48 -10.18 L0.64 -10.16 L0.80 -10.12 L0.95 -10.08 L1.11 -10.01 L1.25 -9.91 L1.39 -9.75 L1.51 -9.53 L1.61 -9.22 L1.69 -8.84 L1.74 -8.42 L1.80 -8.04 L1.86 -7.73 L1.93 -7.50 L2.01 -7.34 L2.10 -7.23 L2.20 -7.15 L2.30 -7.08 L2.40 -7.02 L2.51 -6.97 L2.62 -6.93 L2.72 -6.88 L2.83 -6.84 L2.94 -6.79 L3.05 -6.75 L3.16 -6.71 L3.27 -6.67 L3.38 -6.63 L3.50 -6.61 L3.63 -6.60 L3.77 -6.61 L3.94 -6.67 L4.15 -6.78 L4.42 -6.96 L4.72 -7.19 L5.06 -7.44 L5.38 -7.66 L5.67 -7.81 L5.92 -7.88 L6.12 -7.89 L6.30 -7.86 L6.45 -7.80 L6.60 -7.72 L6.73 -7.63 L6.86 -7.54 L6.98 -7.43 L7.10 -7.32 L7.21 -7.21 L7.32 -7.10 L7.43 -6.98 L7.54 -6.86 L7.63 -6.73 L7.72 -6.60 L7.80 -6.45 L7.86 -6.30 L7.89 -6.12 L7.88 -5.92 L7.81 -5.67 L7.66 -5.38 L7.44 -5.06 L7.19 -4.72 L6.96 -4.42 L6.78 -4.15 L6.67 -3.94 L6.61 -3.77 L6.60 -3.63 L6.61 -3.50 L6.63 -3.38 L6.67 -3.27 L6.71 -3.16 L6.75 -3.05 L6.79 -2.94 L6.84 -2.83 L6.88 -2.72 L6.93 -2.62 L6.97 -2.51 L7.02 -2.40 L7.08 -2.30 L7.15 -2.20 L7.23 -2.10 L7.34 -2.01 L7.50 -1.93 L7.73 -1.86 L8.04 -1.80 L8.42 -1.74 L8.84 -1.69 L9.22 -1.61 L9.53 -1.51 L9.75 -1.39 L9.91 -1.25 L10.01 -1.11 L10.08 -0.95 L10.12 -0.80 L10.16 -0.64 L10.18 -0.48 L10.19 -0.32 L10.20 -0.16 L10.20 -0.00 L10.20 0.16 L10.19 0.32 L10.18 0.48 L10.16 0.64 L10.12 0.80 L10.08 0.95 L10.01 1.11 L9.91 1.25 L9.75 1.39 L9.53 1.51 L9.22 1.61 L8.84 1.69 L8.42 1.74 L8.04 1.80 L7.73 1.86 L7.50 1.93 L7.34 2.01 L7.23 2.10 L7.15 2.20 L7.08 2.30 L7.02 2.40 L6.97 2.51 L6.93 2.62 L6.88 2.72 L6.84 2.83 L6.79 2.94 L6.75 3.05 L6.71 3.16 L6.67 3.27 L6.63 3.38 L6.61 3.50 L6.60 3.63 L6.61 3.77 L6.67 3.94 L6.78 4.15 L6.96 4.42 L7.19 4.72 L7.44 5.06 L7.66 5.38 L7.81 5.67 L7.88 5.92 L7.89 6.12 L7.86 6.30 L7.80 6.45 L7.72 6.60 L7.63 6.73 L7.54 6.86 L7.43 6.98 L7.32 7.10 L7.21 7.21 L7.10 7.32 L6.98 7.43 L6.86 7.54 L6.73 7.63 L6.60 7.72 L6.45 7.80 L6.30 7.86 L6.12 7.89 L5.92 7.88 L5.67 7.81 L5.38 7.66 L5.06 7.44 L4.72 7.19 L4.42 6.96 L4.15 6.78 L3.94 6.67 L3.77 6.61 L3.63 6.60 L3.50 6.61 L3.38 6.63 L3.27 6.67 L3.16 6.71 L3.05 6.75 L2.94 6.79 L2.83 6.84 L2.72 6.88 L2.62 6.93 L2.51 6.97 L2.40 7.02 L2.30 7.08 L2.20 7.15 L2.10 7.23 L2.01 7.34 L1.93 7.50 L1.86 7.73 L1.80 8.04 L1.74 8.42 L1.69 8.84 L1.61 9.22 L1.51 9.53 L1.39 9.75 L1.25 9.91 L1.11 10.01 L0.95 10.08 L0.80 10.12 L0.64 10.16 L0.48 10.18 L0.32 10.19 L0.16 10.20 L0.00 10.20 L-0.16 10.20 L-0.32 10.19 L-0.48 10.18 L-0.64 10.16 L-0.80 10.12 L-0.95 10.08 L-1.11 10.01 L-1.25 9.91 L-1.39 9.75 L-1.51 9.53 L-1.61 9.22 L-1.69 8.84 L-1.74 8.42 L-1.80 8.04 L-1.86 7.73 L-1.93 7.50 L-2.01 7.34 L-2.10 7.23 L-2.20 7.15 L-2.30 7.08 L-2.40 7.02 L-2.51 6.97 L-2.62 6.93 L-2.72 6.88 L-2.83 6.84 L-2.94 6.79 L-3.05 6.75 L-3.16 6.71 L-3.27 6.67 L-3.38 6.63 L-3.50 6.61 L-3.63 6.60 L-3.77 6.61 L-3.94 6.67 L-4.15 6.78 L-4.42 6.96 L-4.72 7.19 L-5.06 7.44 L-5.38 7.66 L-5.67 7.81 L-5.92 7.88 L-6.12 7.89 L-6.30 7.86 L-6.45 7.80 L-6.60 7.72 L-6.73 7.63 L-6.86 7.54 L-6.98 7.43 L-7.10 7.32 L-7.21 7.21 L-7.32 7.10 L-7.43 6.98 L-7.54 6.86 L-7.63 6.73 L-7.72 6.60 L-7.80 6.45 L-7.86 6.30 L-7.89 6.12 L-7.88 5.92 L-7.81 5.67 L-7.66 5.38 L-7.44 5.06 L-7.19 4.72 L-6.96 4.42 L-6.78 4.15 L-6.67 3.94 L-6.61 3.77 L-6.60 3.63 L-6.61 3.50 L-6.63 3.38 L-6.67 3.27 L-6.71 3.16 L-6.75 3.05 L-6.79 2.94 L-6.84 2.83 L-6.88 2.72 L-6.93 2.62 L-6.97 2.51 L-7.02 2.40 L-7.08 2.30 L-7.15 2.20 L-7.23 2.10 L-7.34 2.01 L-7.50 1.93 L-7.73 1.86 L-8.04 1.80 L-8.42 1.74 L-8.84 1.69 L-9.22 1.61 L-9.53 1.51 L-9.75 1.39 L-9.91 1.25 L-10.01 1.11 L-10.08 0.95 L-10.12 0.80 L-10.16 0.64 L-10.18 0.48 L-10.19 0.32 L-10.20 0.16 L-10.20 0.00 L-10.20 -0.16 L-10.19 -0.32 L-10.18 -0.48 L-10.16 -0.64 L-10.12 -0.80 L-10.08 -0.95 L-10.01 -1.11 L-9.91 -1.25 L-9.75 -1.39 L-9.53 -1.51 L-9.22 -1.61 L-8.84 -1.69 L-8.42 -1.74 L-8.04 -1.80 L-7.73 -1.86 L-7.50 -1.93 L-7.34 -2.01 L-7.23 -2.10 L-7.15 -2.20 L-7.08 -2.30 L-7.02 -2.40 L-6.97 -2.51 L-6.93 -2.62 L-6.88 -2.72 L-6.84 -2.83 L-6.79 -2.94 L-6.75 -3.05 L-6.71 -3.16 L-6.67 -3.27 L-6.63 -3.38 L-6.61 -3.50 L-6.60 -3.63 L-6.61 -3.77 L-6.67 -3.94 L-6.78 -4.15 L-6.96 -4.42 L-7.19 -4.72 L-7.44 -5.06 L-7.66 -5.38 L-7.81 -5.67 L-7.88 -5.92 L-7.89 -6.12 L-7.86 -6.30 L-7.80 -6.45 L-7.72 -6.60 L-7.63 -6.73 L-7.54 -6.86 L-7.43 -6.98 L-7.32 -7.10 L-7.21 -7.21 L-7.10 -7.32 L-6.98 -7.43 L-6.86 -7.54 L-6.73 -7.63 L-6.60 -7.72 L-6.45 -7.80 L-6.30 -7.86 L-6.12 -7.89 L-5.92 -7.88 L-5.67 -7.81 L-5.38 -7.66 L-5.06 -7.44 L-4.72 -7.19 L-4.42 -6.96 L-4.15 -6.78 L-3.94 -6.67 L-3.77 -6.61 L-3.63 -6.60 L-3.50 -6.61 L-3.38 -6.63 L-3.27 -6.67 L-3.16 -6.71 L-3.05 -6.75 L-2.94 -6.79 L-2.83 -6.84 L-2.72 -6.88 L-2.62 -6.93 L-2.51 -6.97 L-2.40 -7.02 L-2.30 -7.08 L-2.20 -7.15 L-2.10 -7.23 L-2.01 -7.34 L-1.93 -7.50 L-1.86 -7.73 L-1.80 -8.04 L-1.74 -8.42 L-1.69 -8.84 L-1.61 -9.22 L-1.51 -9.53 L-1.39 -9.75 L-1.25 -9.91 L-1.11 -10.01 L-0.95 -10.08 L-0.80 -10.12 L-0.64 -10.16 L-0.48 -10.18 L-0.32 -10.19 L-0.16 -10.20Z" stroke-linejoin="round"/>
<circle r="3.3" />
</g>
</svg>
</body></html>
